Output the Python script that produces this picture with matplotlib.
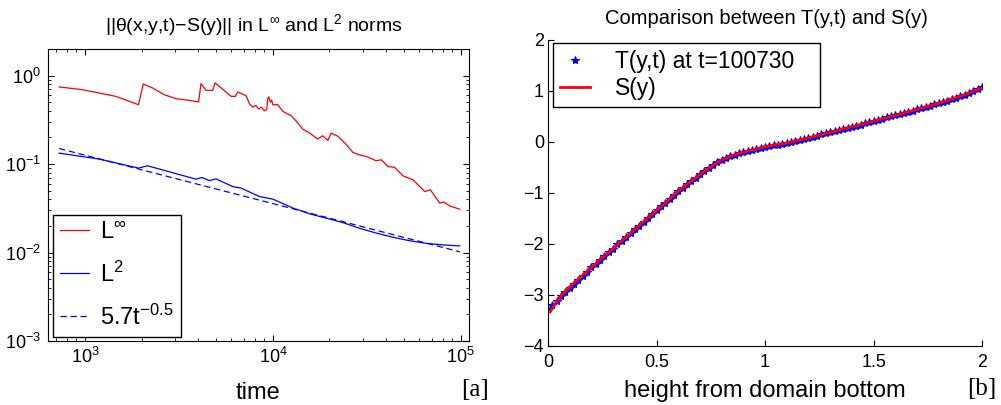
import matplotlib
matplotlib.use('Agg')
import matplotlib.pyplot as plt
import numpy as np
from matplotlib.ticker import FixedLocator, FuncFormatter

plt.rcParams['font.family'] = ['Liberation Sans', 'DejaVu Sans']
plt.rcParams['mathtext.fontset'] = 'custom'
plt.rcParams['mathtext.rm'] = 'Liberation Sans'
plt.rcParams['mathtext.it'] = 'Liberation Sans:italic'
plt.rcParams['mathtext.bf'] = 'Liberation Sans:bold'

# ---- panel [a]: error norms vs time
t_inf = [727, 967, 1458, 1924, 2039, 2286, 2637, 3046, 3590, 4020, 4140, 4400, 4780,
         4920, 5300, 5990, 6310, 6490, 7190, 7500, 7800, 8100, 8400, 8700, 9000, 9270,
         9400, 9500, 9700, 9850, 9980, 10600, 11300, 12500, 13600, 14400, 15700, 17300,
         18400, 19600, 20400, 22200, 24600, 26600, 28900, 31400, 35500, 37700, 40900,
         44400, 49200, 55700, 64300, 68900, 77200, 81100, 87300, 98800]
err_inf = [0.745, 0.694, 0.583, 0.469, 0.805, 0.726, 0.609, 0.549, 0.525, 0.503, 0.812,
           0.682, 0.682, 0.827, 0.726, 0.583, 0.583, 0.654, 0.594, 0.48, 0.44, 0.46, 0.42,
           0.44, 0.40, 0.413, 0.56, 0.574, 0.50, 0.53, 0.469, 0.469, 0.394, 0.352, 0.291,
           0.249, 0.224, 0.192, 0.209, 0.185, 0.224, 0.206, 0.166, 0.136, 0.127, 0.122,
           0.109, 0.112, 0.094, 0.092, 0.0737, 0.0664, 0.0489, 0.0512, 0.0362, 0.0372,
           0.0337, 0.0309]

t_l2 = [727, 1188, 1924, 2150, 3890, 4180, 4580, 4980, 6100, 6770, 8470, 9980, 12800,
        15700, 19200, 23600, 28900, 35500, 43500, 53400, 65600, 80500, 98800]
err_l2 = [0.133, 0.114, 0.0901, 0.0957, 0.0676, 0.0705, 0.0652, 0.068, 0.0557, 0.0535,
          0.0430, 0.0402, 0.0318, 0.0274, 0.0245, 0.0218, 0.0188, 0.0166, 0.0149, 0.0136,
          0.0127, 0.0122, 0.0119]

t_fit = [727, 98800]
fit = [0.150, 0.0102]

# ---- panel [b]: T(y,t) and S(y)
y_T = np.linspace(0, 2, 101)
T_vals = [-3.27, -3.20, -3.11, -3.02, -2.94, -2.86, -2.78, -2.70, -2.62, -2.54, -2.46,
          -2.39, -2.31, -2.24, -2.16, -2.09, -2.01, -1.94, -1.86, -1.79, -1.71,
          -1.64, -1.56, -1.49, -1.41, -1.34, -1.26, -1.19, -1.12, -1.04, -0.97,
          -0.90, -0.83, -0.76, -0.70, -0.63, -0.57, -0.51, -0.45, -0.40, -0.35,
          -0.31, -0.28, -0.25, -0.22, -0.20, -0.17, -0.15, -0.13, -0.11, -0.09,
          -0.08, -0.06, -0.05, -0.03, -0.02, 0.00, 0.02, 0.04, 0.06, 0.08,
          0.10, 0.12, 0.15, 0.17, 0.19, 0.21, 0.23, 0.26, 0.28, 0.30,
          0.32, 0.34, 0.37, 0.39, 0.41, 0.43, 0.45, 0.48, 0.50, 0.52,
          0.54, 0.57, 0.59, 0.61, 0.64, 0.66, 0.69, 0.71, 0.74, 0.76,
          0.79, 0.81, 0.84, 0.87, 0.90, 0.93, 0.96, 0.99, 1.03, 1.08]
y_S = [0.01, 0.05, 0.1, 0.2, 0.3, 0.4, 0.5, 0.6, 0.7, 0.8, 0.85, 0.9, 1.0, 1.1, 1.2,
       1.3, 1.4, 1.5, 1.6, 1.7, 1.8, 1.9, 2.0]
S_vals = [-3.33, -3.06, -2.84, -2.46, -2.09, -1.71, -1.34, -0.97, -0.63, -0.35, -0.26,
          -0.20, -0.09, -0.02, 0.08, 0.19, 0.30, 0.41, 0.52, 0.64, 0.76, 0.90, 1.06]

fig = plt.figure(figsize=(10.01, 4.05), dpi=100)

ax1 = fig.add_axes([0.048, 0.158, 0.4206, 0.721])
ax1.loglog(t_inf, err_inf, color='red', lw=0.9, label='L$^{\\infty}$')
ax1.loglog(t_l2, err_l2, color='blue', lw=0.9, label='L$^{2}$')
ax1.loglog(t_fit, fit, color='blue', lw=0.9, ls='--', dashes=(5, 3),
           label='5.7t$^{-0.5}$')
ax1.set_xlim(635, 1.107e5)
ax1.set_ylim(1e-3, 2)
ax1.tick_params(which='both', direction='in', top=True, right=True, labelsize=13)
ax1.tick_params(which='major', length=4, pad=4)
ax1.tick_params(which='minor', length=2)
ax1.tick_params(axis='y', pad=5)
leg1 = ax1.legend(loc='lower left', bbox_to_anchor=(0.012, 0.015), borderaxespad=0,
                  fontsize=17, fancybox=False, edgecolor='black', framealpha=1,
                  handlelength=1.2, handletextpad=0.5, labelspacing=0.75,
                  borderpad=0.3)
leg1.get_frame().set_linewidth(1.0)

ax2 = fig.add_axes([0.5475, 0.1457, 0.4336, 0.7556])
ax2.plot(y_T, T_vals, ls='none', marker='*', ms=6, color='blue', mew=0.8,
         label='T(y,t) at t=100730   ')
ax2.plot(y_S, S_vals, color='red', lw=2, label='S(y)', zorder=3)
ax2.set_xlim(0, 2)
ax2.set_ylim(-4, 2)
ax2.xaxis.set_major_locator(FixedLocator([0, 0.5, 1, 1.5, 2]))
ax2.yaxis.set_major_locator(FixedLocator([-4, -3, -2, -1, 0, 1, 2]))
fmt = FuncFormatter(lambda v, p: ('%g' % v).replace('-', '\u2212'))
ax2.xaxis.set_major_formatter(fmt)
ax2.yaxis.set_major_formatter(fmt)
ax2.spines['top'].set_visible(False)
ax2.spines['right'].set_visible(False)
ax2.tick_params(direction='in', length=4, labelsize=13)
ax2.tick_params(axis='x', pad=6)
ax2.tick_params(axis='y', pad=3)
leg2 = ax2.legend(loc='upper left', bbox_to_anchor=(0.0115, 0.99), borderaxespad=0,
                  fontsize=16.5, fancybox=False, edgecolor='black', framealpha=1,
                  numpoints=1, handlelength=1.3, handletextpad=1.1, labelspacing=0.2,
                  borderpad=0.3)
leg2.get_frame().set_linewidth(1.0)

fig.text(254 / 1001, 1 - 25 / 405, '||\u03b8(x,y,t)\u2212S(y)|| in L$^{\\infty}$ and L$^{2}$ norms',
         ha='center', va='center', fontsize=14)
fig.text(766 / 1001, 1 - 18 / 405, 'Comparison between T(y,t) and S(y)',
         ha='center', va='center', fontsize=14.5)
fig.text(258 / 1001, 1 - 399 / 405, 'time', ha='center', va='baseline', fontsize=17)
fig.text(765 / 1001, 1 - 397 / 405, 'height from domain bottom', ha='center',
         va='baseline', fontsize=17)
fig.text(475 / 1001, 1 - 390 / 405, '[a]', ha='center', va='center', fontsize=18,
         family='Liberation Serif')
fig.text(982 / 1001, 1 - 389 / 405, '[b]', ha='center', va='center', fontsize=18,
         family='Liberation Serif')

fig.savefig('out.png', dpi=100)
